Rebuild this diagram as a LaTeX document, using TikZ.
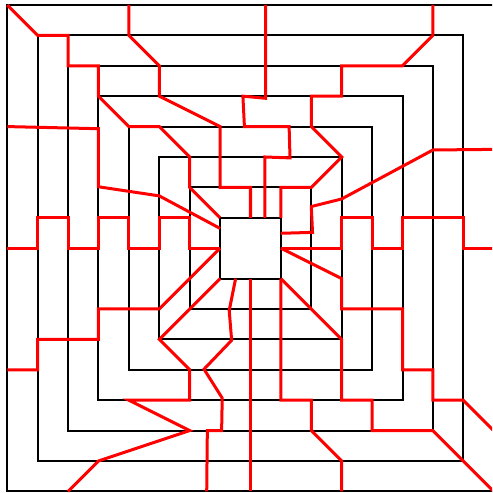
\documentclass[tikz,border=0pt]{standalone}
\begin{document}
\begin{tikzpicture}[x=30.4pt,y=-30.4pt,
  sq/.style={draw=black,line width=2pt},
  rd/.style={draw=red,line width=3pt}]
\useasboundingbox (-8.240,-8.164) rectangle (7.944,8.053);
\clip (-8.240,-8.164) rectangle (7.944,8.053);
\fill[white] (-8.240,-8.164) rectangle (7.944,8.053);
% nested squares
\foreach \k in {1,...,8} \draw[sq] (-\k,-\k) rectangle (\k,\k);
% named corners of the centre square
\coordinate (tl) at (-1,-1);
\coordinate (tr) at (1,-1);
\coordinate (bl) at (-1,1);
\coordinate (br) at (1,1);
\coordinate (lm) at (-1,0);
\coordinate (rm) at (1,0);
% red paths
\draw[rd] (-8,-8) -- (-7,-7) -- (-6,-7) -- (-6,-6) -- (-5,-6) -- (-5,-5) -- (-4,-4) -- (-3,-4) -- (-2,-3) -- (-2,-2) -- (tl);
\draw[rd] (-4,-8) -- (-4,-7) -- (-3,-6) -- (-3,-5) -- (-1,-4) -- (-1,-2) -- (0,-2) -- (0,-1);
\draw[rd] (0.5,-8) -- (0.5,-4.93) -- (-0.25,-5) -- (-0.2,-4) -- (1.27,-4) -- (1.3,-2.97) -- (0.47,-3) -- (0.47,-1);
\draw[rd] (6,-8) -- (6,-7) -- (5,-6) -- (3,-6) -- (3,-5) -- (2,-5) -- (2,-4) -- (3,-3) -- (2,-2) -- (1,-2) -- (tr);
\draw[rd] (8,-3.25) -- (6,-3.23) -- (3,-1.62) -- (2,-1.37) -- (2.04,-0.52) -- (1,-0.49);
\draw[rd] (rm) -- (3,0) -- (3,-1) -- (4,-1) -- (4,0) -- (5,0) -- (5,-1) -- (7,-1) -- (7,0) -- (8,0);
\draw[rd] (-8,0) -- (-7,0) -- (-7,-1) -- (-6,-1) -- (-6,0) -- (-5,0) -- (-5,-1) -- (-4,-1) -- (-4,0) -- (-3,0) -- (-3,-1) -- (-2,-1) -- (-2,0) -- (lm);
\draw[rd] (-8,-4) -- (-5,-3.93) -- (-5,-2.02) -- (-3,-1.72) -- (-1,-0.65);
\draw[rd] (lm) -- (-3,2) -- (-5,2) -- (-5,3) -- (-7,3) -- (-7,4) -- (-8,4);
\draw[rd] (bl) -- (-3,3) -- (-2,4) -- (-2,5) -- (-4,5) -- (-2,6) -- (-5,7) -- (-6,8);
\draw[rd] (-0.49,1) -- (-0.7,2.05) -- (-0.62,3.03) -- (-1.53,3.98) -- (-0.93,4.93) -- (-0.95,6) -- (-1.42,6) -- (-1.44,8);
\draw[rd] (0,1) -- (0,8);
\draw[rd] (rm) -- (3,1) -- (3,2) -- (5,2) -- (5,4) -- (6,4) -- (6,5) -- (7,5) -- (8,6);
\draw[rd] (br) -- (3,3) -- (3,5) -- (4,5) -- (4,6) -- (6,6) -- (8,8);
\draw[rd] (br) -- (1,5) -- (2,5) -- (2,6) -- (3,7) -- (3,8);
\end{tikzpicture}
\end{document}
